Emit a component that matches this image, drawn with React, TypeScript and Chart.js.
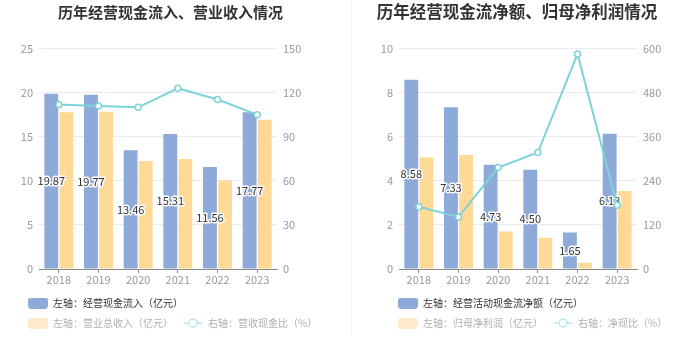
import React, { useEffect, useRef } from "react";
import { Chart, registerables } from "chart.js";

Chart.register(...registerables);

// ---------- data ----------
const years = ["2018", "2019", "2020", "2021", "2022", "2023"];

// left chart
const leftTitle = "历年经营现金流入、营业收入情况";
const cashInflow = [19.87, 19.77, 13.46, 15.31, 11.56, 17.77];
const revenue = [17.76, 17.84, 12.24, 12.46, 10.03, 16.93];
const cashRevenueRatio = [111.9, 110.8, 110.0, 122.9, 115.3, 105.0];
const leftLegend = ["左轴：经营现金流入（亿元）", "左轴：营业总收入（亿元）", "右轴：营收现金比（%）"];
const leftAxisL = [0, 25, 5];
const leftAxisR = [0, 150, 30];

// right chart
const rightTitle = "历年经营现金流净额、归母净利润情况";
const netOperatingCash = [8.58, 7.33, 4.73, 4.5, 1.65, 6.13];
const netProfit = [5.06, 5.17, 1.7, 1.42, 0.28, 3.54];
const netCashRatio = [169.5, 141.8, 276.0, 317.0, 585.0, 173.3];
const rightLegend = ["左轴：经营活动现金流净额（亿元）", "左轴：归母净利润（亿元）", "右轴：净现比（%）"];
const rightAxisL = [0, 10, 2];
const rightAxisR = [0, 600, 120];

// ---------- styles ----------
const FONT = "'Noto Sans CJK SC', 'Noto Sans', sans-serif";
const BLUE = "#8eaad9";
const ORANGE = "#ffd996";
const TEAL = "#7dd3d8";
const ORANGE_LEG = "#ffebcc";
const TEAL_LEG = "#b8e8eb";
const TICK = "#999999";

function boxImg(color: string) {
  const c = document.createElement("canvas");
  c.width = 20;
  c.height = 11;
  const g = c.getContext("2d")!;
  g.fillStyle = color;
  g.beginPath();
  (g as any).roundRect(0, 0, 20, 11, 3);
  g.fill();
  return c;
}

function lineImg(color: string) {
  const c = document.createElement("canvas");
  c.width = 20;
  c.height = 12;
  const g = c.getContext("2d")!;
  g.strokeStyle = color;
  g.lineWidth = 1.5;
  g.beginPath();
  g.moveTo(1, 6);
  g.lineTo(19, 6);
  g.stroke();
  g.beginPath();
  g.arc(10, 6, 4, 0, Math.PI * 2);
  g.fillStyle = "#fff";
  g.fill();
  g.stroke();
  return c;
}

const tweakPlugin = {
  id: "tweak",
  afterLayout(chart: any, _args: any, opts: any) {
    const t = chart.titleBlock;
    if (t && opts.titleCenter != null) {
      const w = t.right - t.left;
      t.left = opts.titleCenter - w / 2;
      t.right = t.left + w;
    }
    const lg = chart.legend;
    if (lg && opts.legendLeft != null) {
      lg.left = opts.legendLeft;
      lg.right = opts.legendLeft + opts.legendWidth;
    }
  },
};

const barLabelPlugin = {
  id: "barLabels",
  afterDatasetDraw(chart: any, args: any) {
    if (args.index !== 0) return;
    const ctx = chart.ctx;
    const data = chart.data.datasets[0].data;
    ctx.save();
    ctx.font = `11px ${FONT}`;
    ctx.textAlign = "center";
    ctx.textBaseline = "middle";
    ctx.lineJoin = "round";
    ctx.lineWidth = 3;
    ctx.strokeStyle = "#ffffff";
    ctx.fillStyle = "#333333";
    args.meta.data.forEach((el: any, i: number) => {
      const p = el.getProps(["x", "y", "base"], true);
      const ty = (p.y + p.base) / 2;
      const txt = Number(data[i]).toFixed(2);
      ctx.strokeText(txt, p.x, ty);
      ctx.fillText(txt, p.x, ty);
    });
    ctx.restore();
  },
};

type Cfg = {
  title: string;
  titleSize: number;
  bars1: number[];
  bars2: number[];
  line: number[];
  legend: string[];
  axisL: number[];
  axisR: number[];
  yWidth: number;
  y1Width: number;
  titleCenter: number;
  legendLeft: number;
};

function makeConfig(c: Cfg): any {
  const imgs = [boxImg(BLUE), boxImg(ORANGE_LEG), lineImg(TEAL_LEG)];
  const colors = ["#333333", "#b0b0b0", "#b0b0b0"];
  const titleLH = c.titleSize * 1.2;
  return {
    type: "bar",
    data: {
      labels: years,
      datasets: [
        {
          label: c.legend[0],
          data: c.bars1,
          backgroundColor: BLUE,
          yAxisID: "y",
          categoryPercentage: 0.76,
          barPercentage: 0.92,
          order: 1,
        },
        {
          label: c.legend[1],
          data: c.bars2,
          backgroundColor: ORANGE,
          yAxisID: "y",
          categoryPercentage: 0.76,
          barPercentage: 0.92,
          order: 1,
        },
        {
          type: "line",
          label: c.legend[2],
          data: c.line,
          yAxisID: "y1",
          borderColor: TEAL,
          borderWidth: 2,
          pointRadius: 3,
          pointBackgroundColor: "#ffffff",
          pointBorderColor: TEAL,
          pointBorderWidth: 1.5,
          tension: 0,
          order: -1,
        },
      ],
    },
    options: {
      responsive: false,
      animation: false,
      layout: { padding: { left: 0, right: 0, top: 0, bottom: 22 } },
      plugins: {
        title: {
          display: true,
          text: c.title,
          color: "#333333",
          font: { size: c.titleSize, weight: "bold", family: FONT },
          padding: { top: 12 - titleLH / 2, bottom: 48.5 - 12 - titleLH / 2 },
        },
        legend: {
          position: "bottom",
          align: "start",
          labels: {
            usePointStyle: true,
            pointStyleWidth: 20,
            boxHeight: 11,
            padding: 10,
            font: { size: 10, family: FONT },
            generateLabels: () =>
              c.legend.map((t, i) => ({
                text: t,
                pointStyle: imgs[i],
                fontColor: colors[i],
                fillStyle: "#fff",
                strokeStyle: "#fff",
                lineWidth: 0,
                hidden: false,
                datasetIndex: i,
              })),
          },
        },
        tooltip: { enabled: false },
        tweak: { titleCenter: c.titleCenter, legendLeft: c.legendLeft, legendWidth: 319 },
      },
      scales: {
        x: {
          grid: { display: true, drawOnChartArea: false, offset: false, tickLength: 4, color: "#8c8c8c" },
          border: { color: "#8c8c8c" },
          ticks: { color: TICK, font: { size: 11, family: FONT }, padding: 0 },
          afterFit: (s: any) => {
            s.height = 19;
          },
        },
        y: {
          position: "left",
          min: c.axisL[0],
          max: c.axisL[1],
          ticks: { stepSize: c.axisL[2], color: TICK, font: { size: 11, family: FONT }, padding: 6 },
          grid: { color: "#e6ebf5", drawTicks: false },
          border: { display: false },
          afterFit: (s: any) => {
            s.width = c.yWidth;
          },
        },
        y1: {
          position: "right",
          min: c.axisR[0],
          max: c.axisR[1],
          ticks: { stepSize: c.axisR[2], color: TICK, font: { size: 11, family: FONT }, padding: 6 },
          grid: { drawOnChartArea: false, drawTicks: false },
          border: { display: false },
          afterFit: (s: any) => {
            s.width = c.y1Width;
          },
        },
      },
    },
    plugins: [tweakPlugin, barLabelPlugin],
  };
}

export default function App() {
  const leftRef = useRef<HTMLCanvasElement>(null);
  const rightRef = useRef<HTMLCanvasElement>(null);

  useEffect(() => {
    Chart.defaults.font.family = FONT;
    const a = new Chart(
      leftRef.current!,
      makeConfig({
        title: leftTitle,
        titleSize: 15,
        bars1: cashInflow,
        bars2: revenue,
        line: cashRevenueRatio,
        legend: leftLegend,
        axisL: leftAxisL,
        axisR: leftAxisR,
        yWidth: 39,
        y1Width: 74,
        titleCenter: 170.5,
        legendLeft: 18,
      })
    );
    const b = new Chart(
      rightRef.current!,
      makeConfig({
        title: rightTitle,
        titleSize: 16.5,
        bars1: netOperatingCash,
        bars2: netProfit,
        line: netCashRatio,
        legend: rightLegend,
        axisL: rightAxisL,
        axisR: rightAxisR,
        yWidth: 47,
        y1Width: 63,
        titleCenter: 165,
        legendLeft: 36,
      })
    );
    return () => {
      a.destroy();
      b.destroy();
    };
  }, []);

  return (
    <div style={{ position: "absolute", left: 0, top: 0, width: 700, height: 360, background: "#fff" }}>
      <canvas ref={leftRef} width={351} height={360} style={{ position: "absolute", left: 0, top: 0, display: "block" }} />
      <div style={{ position: "absolute", left: 351, top: 0, width: 1, height: 335, background: "#f2f2f2" }} />
      <canvas ref={rightRef} width={348} height={360} style={{ position: "absolute", left: 352, top: 0, display: "block" }} />
    </div>
  );
}
